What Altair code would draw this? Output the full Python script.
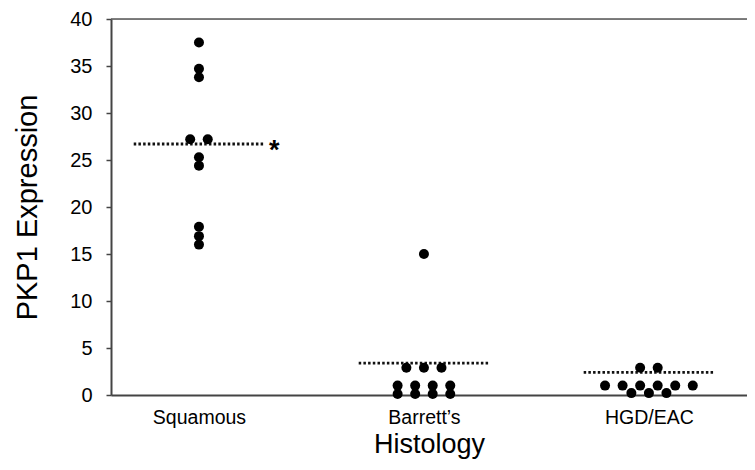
import altair as alt
import pandas as pd

categories = ["Squamous", "Barrett\u2019s", "HGD/EAC"]
squamous = [37.5, 34.7, 33.8, 27.2, 27.2, 25.3, 24.4, 17.9, 16.9, 16.0]
barretts = [15.0, 2.9, 2.9, 2.9, 1.0, 1.0, 1.0, 1.0, 0.1, 0.1, 0.1, 0.1]
hgd_eac = [2.9, 2.9, 1.0, 1.0, 1.0, 1.0, 1.0, 1.0, 0.2, 0.2, 0.2]
means = [26.7, 3.4, 2.4]
y_ticks = [0, 5, 10, 15, 20, 25, 30, 35, 40]

FONT = "Liberation Sans"
SPREAD = 0.078   # horizontal spacing of tied points (category units)
HALF = 0.29      # half-length of mean line

rows = []
for ci, vals in enumerate([squamous, barretts, hgd_eac]):
    pos = ci + 1
    counts = {}
    for v in vals:
        counts[v] = counts.get(v, 0) + 1
    seen = {}
    for v in vals:
        i = seen.get(v, 0)
        seen[v] = i + 1
        n = counts[v]
        rows.append({"group": categories[ci], "x": pos + (i - (n - 1) / 2) * SPREAD, "value": v})
pts = pd.DataFrame(rows)

mean_df = pd.DataFrame({
    "group": categories,
    "x": [i + 1 - HALF for i in range(3)],
    "x2": [i + 1 + HALF for i in range(3)],
    "mean": means,
})
star_df = pd.DataFrame({"x": [1 + HALF + 0.045], "y": [means[0]], "t": ["*"]})

label_expr = " : ".join(
    [f"datum.value == {i+1} ? '{c}'" for i, c in enumerate(categories)]
) + " : ''"

W, H = 636, 376
xscale = alt.Scale(domain=[0.609, 3.436], nice=False, zero=False)
yscale = alt.Scale(domain=[0, 40], nice=False)

xaxis = alt.Axis(
    values=[1, 2, 3], labelExpr=label_expr, title="Histology",
    grid=False, ticks=False, domainColor="#444444", domainWidth=2,
    labelFont=FONT, labelFontSize=19.5, labelColor="#000000", labelPadding=13,
    titleFont=FONT, titleFontSize=27, titleFontWeight="normal", titleColor="#000000",
    titleY=49, titleBaseline="middle",
)
yaxis = alt.Axis(
    values=y_ticks, title="PKP1 Expression", grid=False,
    tickSize=5, tickColor="#444444", tickWidth=1.5,
    domainColor="#444444", domainWidth=2,
    labelFont=FONT, labelFontSize=20, labelColor="#000000", labelPadding=14,
    titleFont=FONT, titleFontSize=29, titleFontWeight="normal", titleColor="#000000",
    titleX=-84, titleY=H / 2, titleAngle=-90, titleBaseline="middle", titleAlign="center",
)

points = alt.Chart(pts).mark_circle(size=100, color="#000000", opacity=1).encode(
    x=alt.X("x:Q", scale=xscale, axis=xaxis),
    y=alt.Y("value:Q", scale=yscale, axis=yaxis),
)

mean_lines = alt.Chart(mean_df).mark_rule(
    color="#111111", strokeWidth=2.8, strokeDash=[2.5, 2.2]
).encode(
    x=alt.X("x:Q", scale=xscale),
    x2="x2:Q",
    y=alt.Y("mean:Q", scale=yscale),
)

star = alt.Chart(star_df).mark_text(
    font=FONT, fontSize=27, fontWeight="bold", color="#000000", baseline="middle", dy=7
).encode(
    x=alt.X("x:Q", scale=xscale),
    y=alt.Y("y:Q", scale=yscale),
    text="t:N",
)

top_line = alt.Chart(pd.DataFrame({"y": [40]})).mark_rule(
    color="#555555", strokeWidth=1.5
).encode(
    y=alt.Y("y:Q", scale=yscale),
    x=alt.value(0),
    x2=alt.value(W),
)

chart = alt.layer(top_line, mean_lines, points, star).properties(
    width=W, height=H,
    autosize=alt.AutoSizeParams(type="none"),
    padding={"left": 103, "top": 11, "right": 0, "bottom": 65},
).configure_view(stroke=None).configure(background="#ffffff")

chart.save("out.html", embed_options={"renderer": "svg", "actions": False})
